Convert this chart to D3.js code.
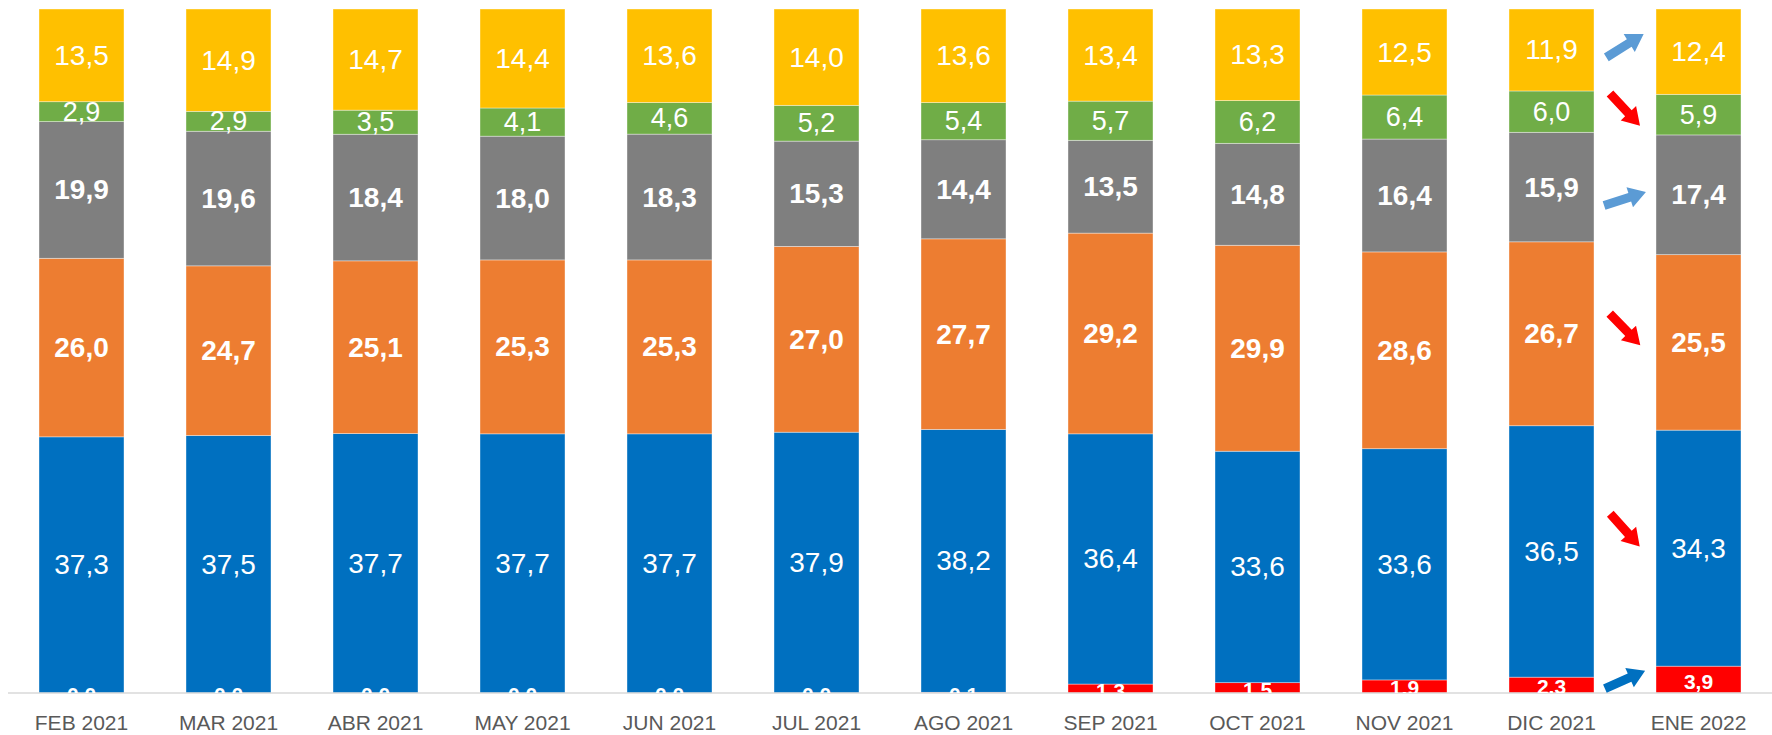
<!DOCTYPE html>
<html><head><meta charset="utf-8">
<script src="https://cdn.jsdelivr.net/npm/d3@7"></script>
<style>
html,body{margin:0;padding:0;background:#fff;}
svg{display:block;}
</style></head>
<body>
<svg id="chart" width="1772" height="735"></svg>
<script>
const categories = ["FEB 2021","MAR 2021","ABR 2021","MAY 2021","JUN 2021","JUL 2021","AGO 2021","SEP 2021","OCT 2021","NOV 2021","DIC 2021","ENE 2022"];
const seriesNames = ["s1","s2","s3","s4","s5","s6"];
const red    = [0.0,0.0,0.0,0.0,0.0,0.0,0.1,1.3,1.5,1.9,2.3,3.9];
const blue   = [37.3,37.5,37.7,37.7,37.7,37.9,38.2,36.4,33.6,33.6,36.5,34.3];
const orange = [26.0,24.7,25.1,25.3,25.3,27.0,27.7,29.2,29.9,28.6,26.7,25.5];
const gray   = [19.9,19.6,18.4,18.0,18.3,15.3,14.4,13.5,14.8,16.4,15.9,17.4];
const green  = [2.9,2.9,3.5,4.1,4.6,5.2,5.4,5.7,6.2,6.4,6.0,5.9];
const yellow = [13.5,14.9,14.7,14.4,13.6,14.0,13.6,13.4,13.3,12.5,11.9,12.4];
const seriesValues = [red, blue, orange, gray, green, yellow];

// styles
const colors = ["#FF0000","#0070C0","#ED7D31","#7F7F7F","#70AD47","#FFC000"];
const labelWeight = ["bold","normal","bold","bold","normal","normal"];
const labelSize = [21,28,28,28,27,28];
// trend arrows (last period vs previous), per series
const arrowColor = ["#0070C0","#FF0000","#FF0000","#5B9BD5","#FF0000","#5B9BD5"];
const arrowAngle = [-24,48,46,-18,47,-32];
const arrowDy = [0,-18,-13,4,-5,-6];

const svg = d3.select("#chart");
const W = 1772, H = 735;
const m = {left:8, right:0, top:9, bottom:42};

const rows = categories.map((c,i)=>{
  const r = {cat:c};
  seriesNames.forEach((s,k)=> r[s] = seriesValues[k][i]);
  return r;
});
const stack = d3.stack().keys(seriesNames).offset(d3.stackOffsetExpand);
const layers = stack(rows);

const x = d3.scaleBand().domain(categories).range([m.left, W-m.right]).paddingInner(62/147).paddingOuter(31/147);
const y = d3.scaleLinear().domain([0,1]).range([H-m.bottom, m.top]);

const defs = svg.append("defs");
defs.append("clipPath").attr("id","plotclip").append("rect")
  .attr("x",0).attr("y",0).attr("width",W).attr("height",H-m.bottom);

// bars
const g = svg.append("g");
layers.forEach((layer,k)=>{
  g.append("g").selectAll("rect").data(layer).join("rect")
    .attr("x", d=>x(d.data.cat))
    .attr("width", x.bandwidth())
    .attr("y", d=>y(d[1]))
    .attr("height", d=>Math.max(0, y(d[0])-y(d[1])))
    .attr("fill", colors[k])
    .attr("stroke","#ffffff").attr("stroke-opacity",0.5).attr("stroke-width",0.75);
});

// axis baseline
const xAxis = d3.axisBottom(x).tickSize(0).tickPadding(22);
const ax = svg.append("g").attr("transform",`translate(0,${H-m.bottom})`).call(xAxis);
ax.select(".domain").attr("stroke","#D9D9D9").attr("stroke-width",1.5).attr("d",`M${m.left},0H${W}`);
ax.selectAll("text").attr("fill","#595959")
  .style("font-family","'Liberation Sans Narrow','Liberation Sans',Arial,sans-serif")
  .style("font-size","21px");

// labels
const lg = svg.append("g").attr("clip-path","url(#plotclip)");
layers.forEach((layer,k)=>{
  lg.append("g").selectAll("text").data(layer).join("text")
    .attr("x", d=>x(d.data.cat)+x.bandwidth()/2)
    .attr("y", d=>(y(d[0])+y(d[1]))/2 + (k===0?1.5:0))
    .attr("text-anchor","middle")
    .attr("dominant-baseline","central")
    .attr("fill","#ffffff")
    .style("font-family","'Liberation Sans',Arial,sans-serif")
    .style("font-size", labelSize[k]+"px")
    .style("font-weight", labelWeight[k])
    .text(d=>d.data[seriesNames[k]].toFixed(1).replace(".",","));
});

// trend arrows between last two bars
const last = categories.length-1;
const ax0 = x(categories[last-1]) + x.bandwidth();
const ax1 = x(categories[last]);
const acx = (ax0+ax1)/2;
const L=44, sw=4.5, hw=10.5, hl=17;
const arrowPath = `M${-L/2},${-sw}L${L/2-hl},${-sw}L${L/2-hl},${-hw}L${L/2},0L${L/2-hl},${hw}L${L/2-hl},${sw}L${-L/2},${sw}Z`;
layers.forEach((layer,k)=>{
  const d = layer[last];
  const cy = (y(d[0])+y(d[1]))/2 + arrowDy[k];
  svg.append("path").attr("d",arrowPath)
    .attr("fill",arrowColor[k])
    .attr("transform",`translate(${acx},${cy}) rotate(${arrowAngle[k]})`);
});
</script>
</body></html>
